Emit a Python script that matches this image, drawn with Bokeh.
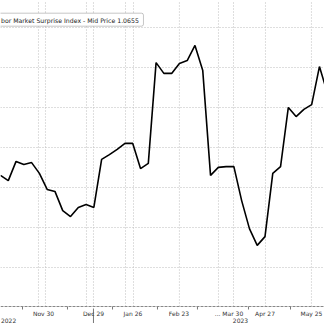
from bokeh.plotting import figure
from bokeh.models import Range1d, FixedTicker, BoxAnnotation, Label, Span
from bokeh.embed import file_html
from bokeh.resources import INLINE

# ---- data (y axis is hidden, arbitrary index units) ----
point_index = list(range(43))
surprise_index = [2.9, 1.6, 6.4, 5.6, 6.1, 3.4, -0.6, -1.1, -5.9, -7.4,
                  -5.1, -4.4, -5.1, 6.9, 8.1, 9.4, 10.9, 10.9, 4.6, 5.9,
                  31.1, 28.4, 28.4, 30.9, 31.6, 35.4, 29.1, 2.9, 4.9, 5.1,
                  5.1, -3.4, -10.4, -14.6, -12.4, 3.4, 5.1, 19.9, 17.6, 19.4,
                  20.6, 30.1, 23.6]

tick_labels = ["Nov 30", "Dec 29", "Jan 26", "Feb 23", "... Mar 30", "Apr 27", "May 25"]
tick_pos = [5.53, 11.95, 17.03, 22.94, 29.37, 34.0, 39.97]
year_labels = ["2022", "2023"]
year_pos = [0.06, 30.85]
year_align = ["left", "center"]
year_sep = [11.95]
minor_pos = [2.83, 8.61, 14.4, 20.18, 25.32, 31.88, 37.28]
vgrid_pos = [4.88, 5.78, 11.05, 11.95, 16.07, 17.1, 23.0, 28.02, 29.95, 34.06, 39.97]
hgrid_pos = [-20, -10, 0, 10, 20, 30, 40]
legend_text = "bor Market Surprise Index - Mid Price 1.0655"

FONT = "DejaVu Sans"
PX = 0.25                      # data units per pixel vertically
Y_TOP = 46.625
Y_BOTTOM = Y_TOP - 323 * PX    # bottom of the canvas
Y_AXIS = Y_TOP - 306 * PX      # level of the time axis line

p = figure(width=324, height=323, output_backend="svg", toolbar_location=None,
           x_range=Range1d(0, 41.65), y_range=Range1d(Y_BOTTOM, Y_TOP),
           x_axis_location=None, y_axis_location=None,
           min_border_left=0, min_border_right=0, min_border_top=0, min_border_bottom=0)
p.outline_line_color = None
p.background_fill_color = "white"
p.border_fill_color = "white"

# horizontal grid
p.xgrid.visible = False
p.ygrid.ticker = FixedTicker(ticks=hgrid_pos)
p.ygrid.grid_line_color = "#bdbdbd"
p.ygrid.grid_line_dash = "1 2"

# vertical grid, stopping at the time axis
p.segment(x0=vgrid_pos, y0=[Y_AXIS] * len(vgrid_pos), x1=vgrid_pos,
          y1=[Y_TOP] * len(vgrid_pos), line_color="#bdbdbd", line_dash="1 2",
          line_width=1, level="underlay")

# time axis line, small marks and the year separator
p.add_layout(Span(location=Y_AXIS, dimension="width", line_color="#888888",
                  line_dash="3 1", line_width=1))
p.segment(x0=minor_pos, y0=[Y_AXIS] * len(minor_pos), x1=minor_pos,
          y1=[Y_AXIS - 3 * PX] * len(minor_pos), line_color="#777777", line_width=1)
p.segment(x0=year_sep, y0=[Y_AXIS - 2 * PX], x1=year_sep, y1=[Y_BOTTOM],
          line_color="#777777", line_width=1)

# tick labels below the axis
for t, lab in zip(tick_pos, tick_labels):
    p.add_layout(Label(x=t, y=Y_AXIS - 3 * PX, text=lab, text_font=FONT,
                       text_font_size="6px", text_color="#333333",
                       text_baseline="top", text_align="center"))
for t, lab, al in zip(year_pos, year_labels, year_align):
    p.add_layout(Label(x=t, y=Y_AXIS - 11 * PX, text=lab, text_font=FONT,
                       text_font_size="6px", text_color="#333333",
                       text_baseline="top", text_align=al))

# series line
p.line(point_index, surprise_index, line_color="black", line_width=1.6)

# legend box (its left edge lies beyond the chart edge as in the reference)
p.add_layout(BoxAnnotation(left=-1.5, right=18.38, top=43.45, bottom=40.2,
                           fill_color="white", fill_alpha=1.0,
                           line_color="#444444", line_width=1, border_radius=2))
p.add_layout(Label(x=0.06, y=41.75, text=legend_text, text_font=FONT,
                   text_font_size="6.2px", text_color="#222222",
                   text_baseline="middle", text_align="left"))

open("out.html", "w").write(file_html(p, INLINE))
